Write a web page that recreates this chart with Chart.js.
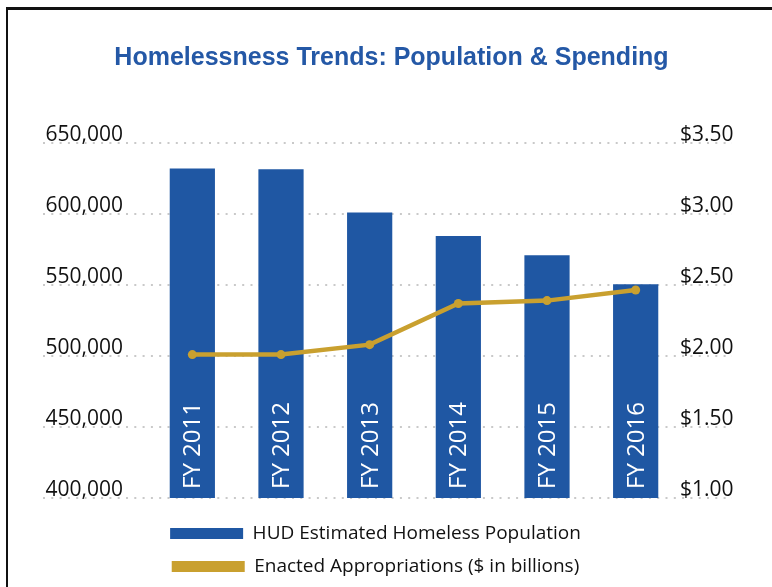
<!DOCTYPE html>
<html>
<head>
<meta charset="utf-8">
<script src="https://cdn.jsdelivr.net/npm/chart.js@4"></script>
<style>
  html, body { margin: 0; padding: 0; background: #fff; overflow: hidden; }
  #wrap { position: relative; width: 772px; height: 587px; }
  #frame { position: absolute; left: 6px; top: 7px; width: 900px; height: 700px;
           border-left: 2px solid #111; border-top: 3px solid #111; pointer-events: none; }
  canvas { position: absolute; left: 0; top: 0; }
</style>
</head>
<body>
<div id="wrap">
  <canvas id="c" width="772" height="587"></canvas>
  <div id="frame"></div>
</div>
<script>
// ---- data ----
const categories = ['FY 2011', 'FY 2012', 'FY 2013', 'FY 2014', 'FY 2015', 'FY 2016'];
const homelessPopulation = [632000, 631500, 601000, 584500, 571000, 550500];
const appropriations = [2.01, 2.01, 2.08, 2.37, 2.39, 2.465];
const seriesNames = ['HUD Estimated Homeless Population', 'Enacted Appropriations ($ in billions)'];
const populationAxis = { min: 400000, max: 650000, step: 50000 };
const dollarAxis = { min: 1.0, max: 3.5, step: 0.5 };
const chartTitle = 'Homelessness Trends: Population & Spending';

const BLUE = '#1f57a3';
const GOLD = '#c9a02f';
const BODY_FONT = "'Open Sans', 'Noto Sans', sans-serif";

// dotted gridlines running under the tick labels
const dottedGrid = {
  id: 'dottedGrid',
  beforeDatasetsDraw(chart) {
    const y = chart.scales.y;
    const area = chart.chartArea;
    const ctx = chart.ctx;
    const x0 = area.left - 105;
    const x1 = area.right + 52;
    ctx.save();
    ctx.strokeStyle = '#c9c9c9';
    ctx.lineWidth = 2;
    ctx.setLineDash([2, 6.3]);
    y.ticks.forEach(t => {
      const py = Math.round(y.getPixelForValue(t.value));
      ctx.beginPath();
      ctx.moveTo(x0, py);
      ctx.lineTo(x1, py);
      ctx.stroke();
    });
    ctx.restore();
  }
};

// shift the title block so it sits centred over the plot like the original
const titleShift = {
  id: 'titleShift',
  afterLayout(chart) {
    const t = chart.titleBlock;
    if (t) { t.left += 16; t.right += 16; }
  }
};

// category labels written vertically inside the bars
const barLabels = {
  id: 'barLabels',
  afterDraw(chart) {
    const ctx = chart.ctx;
    const xs = chart.scales.x;
    const ys = chart.scales.y;
    const base = ys.getPixelForValue(populationAxis.min);
    ctx.save();
    ctx.fillStyle = '#ffffff';
    ctx.font = "24px 'Open Sans', sans-serif";
    ctx.textAlign = 'left';
    ctx.textBaseline = 'middle';
    categories.forEach((label, i) => {
      const cx = xs.getPixelForValue(i);
      ctx.save();
      ctx.translate(cx + 1, base - 9);
      ctx.rotate(-Math.PI / 2);
      ctx.fillText(label, 0, 0);
      ctx.restore();
    });
    ctx.restore();
  }
};

new Chart(document.getElementById('c'), {
  data: {
    labels: categories,
    datasets: [
      {
        type: 'bar',
        label: seriesNames[0],
        data: homelessPopulation,
        backgroundColor: BLUE,
        borderWidth: 0,
        yAxisID: 'y',
        order: 2,
        barPercentage: 0.51,
        categoryPercentage: 1.0
      },
      {
        type: 'line',
        label: seriesNames[1],
        data: appropriations,
        borderColor: GOLD,
        backgroundColor: GOLD,
        borderWidth: 4.5,
        pointRadius: 4.5,
        pointBackgroundColor: GOLD,
        pointBorderWidth: 0,
        tension: 0,
        yAxisID: 'y1',
        order: 1
      }
    ]
  },
  options: {
    responsive: false,
    devicePixelRatio: 1,
    animation: false,
    layout: { padding: { left: 16, right: 37, top: 10, bottom: 1 } },
    scales: {
      x: {
        display: true,
        offset: true,
        grid: { display: false, drawTicks: false, tickLength: 0 },
        border: { display: false },
        ticks: { display: false },
        afterFit: s => { s.height = 12; }
      },
      y: {
        position: 'left',
        min: populationAxis.min,
        max: populationAxis.max,
        grid: { display: false, drawTicks: false, tickLength: 0 },
        border: { display: false },
        afterFit: s => { s.width = 132; },
        ticks: {
          stepSize: populationAxis.step,
          padding: 25,
          labelOffset: -8,
          color: '#111',
          font: { family: BODY_FONT, size: 21 },
          callback: v => v.toLocaleString('en-US')
        }
      },
      y1: {
        position: 'right',
        min: dollarAxis.min,
        max: dollarAxis.max,
        grid: { display: false, drawTicks: false, tickLength: 0 },
        border: { display: false },
        afterFit: s => { s.width = 55; },
        ticks: {
          stepSize: dollarAxis.step,
          padding: 0,
          labelOffset: -8,
          color: '#111',
          font: { family: BODY_FONT, size: 21 },
          callback: v => '$' + Number(v).toFixed(2)
        }
      }
    },
    plugins: {
      title: {
        display: true,
        text: chartTitle,
        color: '#2458a6',
        font: { family: "'Liberation Sans', Arial, sans-serif", size: 25, weight: 'bold' },
        padding: { top: 33, bottom: 70 }
      },
      legend: {
        position: 'bottom',
        labels: {
          boxWidth: 73,
          boxHeight: 11,
          padding: 14,
          color: '#111',
          font: { family: BODY_FONT, size: 19 },
          sort: (a, b) => a.datasetIndex - b.datasetIndex,
          generateLabels: chart => Chart.defaults.plugins.legend.labels.generateLabels(chart).map(it => {
            it.lineWidth = 0;
            it.strokeStyle = it.fillStyle;
            return it;
          })
        }
      },
      tooltip: { enabled: false }
    }
  },
  plugins: [dottedGrid, titleShift, barLabels]
});
</script>
</body>
</html>
